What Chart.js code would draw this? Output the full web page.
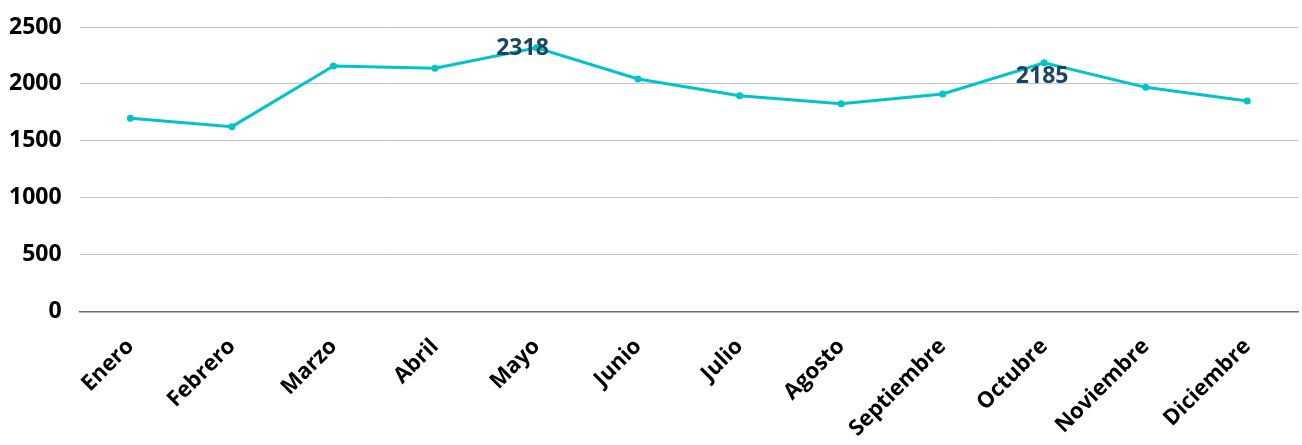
<!DOCTYPE html>
<html>
<head>
<meta charset="utf-8">
<script src="https://cdn.jsdelivr.net/npm/chart.js@4/dist/chart.umd.min.js"></script>
<style>
    html, body { margin: 0; padding: 0; background: #fff; }
    #wrap { width: 1302px; height: 445px; position: relative; }
</style>
</head>
<body>
<div id="wrap"><canvas id="chart"></canvas></div>
<script>
const months = ['Enero', 'Febrero', 'Marzo', 'Abril', 'Mayo', 'Junio', 'Julio', 'Agosto', 'Septiembre', 'Octubre', 'Noviembre', 'Diciembre'];
const totals = [1698, 1625, 2157, 2137, 2318, 2043, 1897, 1825, 1912, 2185, 1970, 1851];
// only these two points carry a value label in the original
const labelled = ['Mayo', 'Octubre'];
const labelSide = ['over', 'below'];

const lineColor = '#00c3cc';

const valueLabels = {
    id: 'valueLabels',
    afterDatasetsDraw(chart)
    {
        const ctx = chart.ctx;
        const meta = chart.getDatasetMeta(0);
        ctx.save();
        ctx.font = 'bold 23px "Noto Sans", sans-serif';
        ctx.fillStyle = '#1b4566';
        ctx.textAlign = 'center';
        ctx.textBaseline = 'middle';
        labelled.forEach((name, i) =>
        {
            const idx = months.indexOf(name);
            const pt = meta.data[idx];
            if (labelSide[i] === 'over')
            {
                ctx.fillText(totals[idx], pt.x - 14, pt.y + 1);
            } else
            {
                ctx.fillText(totals[idx], pt.x - 2, pt.y + 14);
            }
        });
        ctx.restore();
    }
};

new Chart(document.getElementById('chart'), {
    type: 'line',
    data: {
        labels: months,
        datasets: [{
            data: totals,
            borderColor: lineColor,
            backgroundColor: lineColor,
            borderWidth: 3,
            pointRadius: 3.5,
            pointBorderWidth: 0,
            tension: 0
        }]
    },
    options: {
        responsive: true,
        maintainAspectRatio: false,
        animation: false,
        layout: { padding: { top: 27, left: -9, right: 4, bottom: 0 } },
        plugins: {
            legend: { display: false },
            tooltip: { enabled: false }
        },
        scales: {
            x: {
                offset: true,
                grid: { display: false },
                border: { display: true, color: '#6b6b6b', width: 1.5 },
                ticks: {
                    color: '#000',
                    font: { family: '"Open Sans", sans-serif', weight: 'bold', size: 22 },
                    autoSkip: false,
                    minRotation: 45,
                    maxRotation: 45,
                    padding: 14
                },
                afterFit: scale =>
                {
                    // the rotated labels get more room than they use
                    scale.height -= 11;
                }
            },
            y: {
                min: 0,
                max: 2500,
                grid: { color: '#c4c4c4', lineWidth: 1, drawTicks: false },
                border: { display: false },
                ticks: {
                    stepSize: 500,
                    color: '#000',
                    font: { family: '"Open Sans", sans-serif', weight: 'bold', size: 23, lineHeight: 1 },
                    padding: 18,
                    callback: value => String(value)
                },
                afterFit: scale =>
                {
                    scale.paddingTop = 0;
                }
            }
        }
    },
    plugins: [valueLabels]
});
</script>
</body>
</html>
